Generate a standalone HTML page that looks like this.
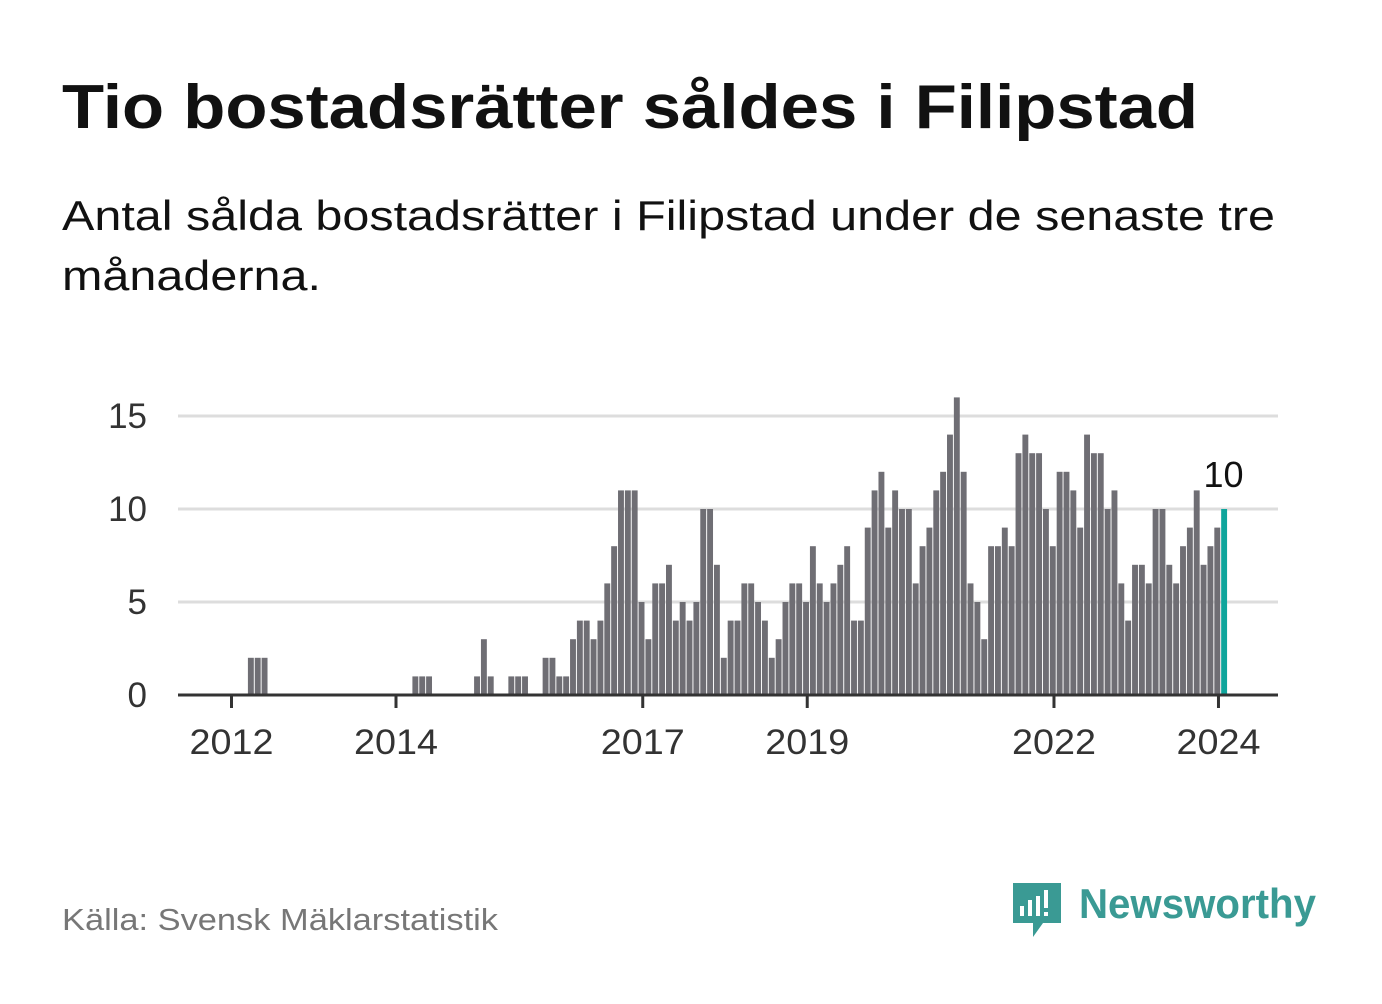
<!DOCTYPE html>
<html><head><meta charset="utf-8"><style>
body{margin:0;background:#fff;width:1382px;height:999px;overflow:hidden;font-family:"Liberation Sans",sans-serif}
</style></head><body>
<svg width="1382" height="999" viewBox="0 0 1382 999" xmlns="http://www.w3.org/2000/svg">
<rect width="1382" height="999" fill="#fff"/>
<text x="62" y="128" font-size="62" font-weight="bold" fill="#111" textLength="1136" lengthAdjust="spacingAndGlyphs">Tio bostadsrätter såldes i Filipstad</text>
<text x="62" y="230" font-size="42" fill="#111" textLength="1213" lengthAdjust="spacingAndGlyphs">Antal sålda bostadsrätter i Filipstad under de senaste tre</text>
<text x="62" y="290" font-size="42" fill="#111" textLength="259" lengthAdjust="spacingAndGlyphs">månaderna.</text>
<g id="plot"></g>
<text x="62" y="930" font-size="31" fill="#777" textLength="436" lengthAdjust="spacingAndGlyphs">Källa: Svensk Mäklarstatistik</text>
<g>
<path d="M1013 883 h48 v40 h-18 l-10 14 v-14 h-20 z" fill="#3a9a94"/>
<rect x="1020" y="906" width="4" height="10" fill="#fff"/>
<rect x="1028" y="900" width="4" height="16" fill="#fff"/>
<rect x="1036" y="896" width="4" height="20" fill="#fff"/>
<rect x="1044" y="890" width="4" height="18" fill="#fff"/>
<rect x="1044" y="912" width="4" height="4" fill="#fff"/>
<text x="1079" y="918" font-size="42" font-weight="bold" fill="#3a9a94" textLength="237" lengthAdjust="spacingAndGlyphs">Newsworthy</text>
</g>
</svg>
<script>
const values = [0,0,2,2,2,0,0,0,0,0,0,0,0,0,0,0,0,0,0,0,0,0,0,0,0,0,1,1,1,0,0,0,0,0,0,
1,3,1,0,0,1,1,1,0,0,2,2,1,1,3,4,4,3,4,6,8,11,11,11,5,
3,6,6,7,4,5,4,5,10,10,7,2,4,4,6,6,5,4,2,3,5,6,6,5,
8,6,5,6,7,8,4,4,9,11,12,9,11,10,10,6,8,9,11,12,14,16,12,6,5,3,8,8,9,8,
13,14,13,13,10,8,12,12,11,9,14,13,13,10,11,6,4,7,7,6,10,10,7,6,8,9,11,7,8,9,10];
const yTicks = [0,5,10,15];
const xTickMonths = [0,24,60,84,120,144];
const xTickLabels = ["2012","2014","2017","2019","2022","2024"];
const highlightLabel = "10";

const NS="http://www.w3.org/2000/svg";
const g=document.getElementById('plot');
const X0=178,X1=1278;
const xm=m=>231.5+m*6.854;
const y=v=>695-v*18.6;
function el(t,a){const e=document.createElementNS(NS,t);for(const k in a)e.setAttribute(k,a[k]);g.appendChild(e);return e;}
yTicks.forEach(v=>{
  if(v>0){const l=el('line',{x1:X0,x2:X1,y1:y(v),y2:y(v),stroke:'#ddd','stroke-width':3});
  
  }
  const t=el('text',{x:147,y:y(v)+12,'font-size':35,fill:'#333','text-anchor':'end'});
  t.textContent=v;
  
  
});
values.forEach((v,m)=>{
  if(v<=0)return;
  const last=m===values.length-1;
  const r=el('rect',{x:xm(m)+2.7,y:y(v),width:5.9,height:695-y(v),fill:last?'#0fa59c':'#6f6e74'});
  
  
});
const ax=el('line',{x1:X0,x2:X1,y1:695,y2:695,stroke:'#333','stroke-width':3});


xTickMonths.forEach((m,i)=>{
  const tk=el('line',{x1:xm(m),x2:xm(m),y1:695,y2:708,stroke:'#333','stroke-width':3});
  
  
  const t=el('text',{x:xm(m),y:754,'font-size':35,fill:'#333','text-anchor':'middle',textLength:84,lengthAdjust:'spacingAndGlyphs'});
  t.textContent=xTickLabels[i];
  
  
});
const lm=values.length-1;
const a=el('text',{x:xm(lm)+5,y:y(values[lm])-22,'font-size':36,fill:'#111','text-anchor':'middle'});
a.textContent=highlightLabel;


</script>
</body></html>
